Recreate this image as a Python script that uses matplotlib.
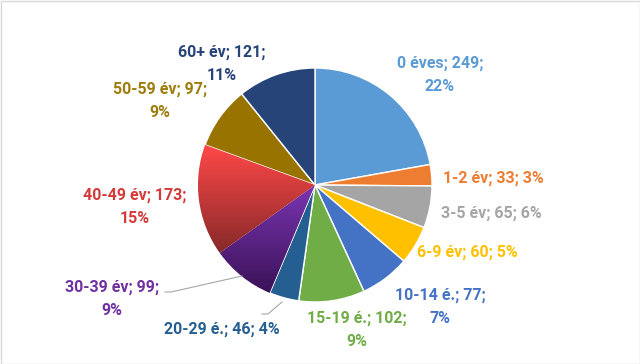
import matplotlib.pyplot as plt
import numpy as np
from matplotlib.colors import LinearSegmentedColormap
from matplotlib.patches import Rectangle

# data
categories = ["0 éves", "1-2 év", "3-5 év", "6-9 év", "10-14 é.", "15-19 é.",
              "20-29 é.", "30-39 év", "40-49 év", "50-59 év", "60+ év"]
values = [249, 33, 65, 60, 77, 102, 46, 99, 173, 97, 121]
percents = ["22%", "3%", "6%", "5%", "7%", "9%", "4%", "9%", "15%", "9%", "11%"]

colors = ["#5B9BD5", "#ED7D31", "#A5A5A5", "#FFC000", "#4472C4", "#70AD47",
          "#255E91", "#6A2C9C", "#E03E3E", "#997300", "#264478"]
label_colors = ["#5B9BD5", "#ED7D31", "#A5A5A5", "#FFC000", "#4472C4", "#70AD47",
                "#255E91", "#7030A0", "#D43A3A", "#9E7C0C", "#264478"]
# gradients for two wedges (top -> bottom)
gradients = {7: ("#7A35B2", "#3A1256"), 8: ("#FF4848", "#862929")}

# label layout (pixel coords, y from top)
label_pos = [(440, 75), (493, 178), (491, 213), (467, 252), (440, 307),
             (357, 330), (222, 329), (112, 299), (135, 207), (160, 101), (222, 64)]
two_line = [True, False, False, False, True, True, False, True, True, True, True]

W, H = 640, 364
fig = plt.figure(figsize=(W / 100, H / 100), dpi=100)
ax = fig.add_axes([0, 0, 1, 1])

cx, cy, r = 315, H - 185, 117
wedges, _ = ax.pie(values, colors=colors, startangle=90, counterclock=False,
                   radius=r, center=(cx, cy), frame=True,
                   wedgeprops=dict(edgecolor="white", linewidth=1.0))

# gradient fill for 30-39 and 40-49
for i, (c_top, c_bot) in gradients.items():
    w = wedges[i]
    cmap = LinearSegmentedColormap.from_list("g", [c_bot, c_top])
    bb = w.get_path().get_extents(w.get_transform() - ax.transData)
    grad = np.linspace(0, 1, 256).reshape(-1, 1)
    im = ax.imshow(grad, cmap=cmap, origin="lower", aspect="auto",
                   extent=[bb.x0, bb.x1, bb.y0, bb.y1], zorder=w.get_zorder())
    im.set_clip_path(w)

ax.set_xlim(0, W)
ax.set_ylim(0, H)
ax.set_aspect("equal")
ax.axis("off")

font = ["Roboto", "DejaVu Sans"]
for i, cat in enumerate(categories):
    if two_line[i]:
        txt = f"{cat}; {values[i]};\n{percents[i]}"
    else:
        txt = f"{cat}; {values[i]}; {percents[i]}"
    x, y = label_pos[i]
    ax.text(x, H - y, txt, ha="center", va="center", color=label_colors[i],
            fontsize=11.5, fontweight="bold", family=font, linespacing=1.7)

# leader lines
lc = "#A6A6A6"
ax.plot([165, 171, 242], [H - 292, H - 292, H - 276], color=lc, lw=0.8)
ax.plot([262, 268, 282], [H - 314, H - 314, H - 302], color=lc, lw=0.8)

ax.add_patch(Rectangle((0.5, 0.5), W - 1, H - 1, fill=False, edgecolor="#D9D9D9", lw=1))

fig.savefig("out.png", dpi=100)
